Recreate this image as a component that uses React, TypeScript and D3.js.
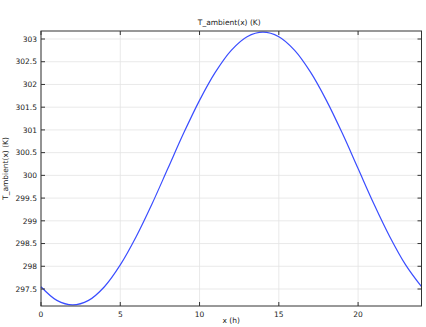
import React from "react";
import * as d3 from "d3";

const hours = [0, 1, 2, 3, 4, 5, 6, 7, 8, 9, 10, 11, 12, 13, 14, 15, 16, 17, 18, 19, 20, 21, 22, 23, 24];
const temps = [297.55, 297.25, 297.15, 297.25, 297.55, 298.03, 298.65, 299.37, 300.15, 300.93, 301.65, 302.27, 302.75, 303.05, 303.15, 303.05, 302.75, 302.27, 301.65, 300.93, 300.15, 299.37, 298.65, 298.03, 297.55];
const xTicks = [0, 5, 10, 15, 20];
const yTicks = [297.5, 298, 298.5, 299, 299.5, 300, 300.5, 301, 301.5, 302, 302.5, 303];
const title = "T_ambient(x) (K)";
const xLabel = "x (h)";
const yLabel = "T_ambient(x) (K)";

export default function App() {
  const W = 426, H = 327;
  const L = 41, R = 421.5, T = 31, B = 306;
  const x = d3.scaleLinear().domain([0, 24]).range([L, R]);
  const y = d3.scaleLinear().domain([297.126, 303.176]).range([B, T]);
  const line = d3
    .line<number>()
    .x((_, i) => x(hours[i]))
    .y((d) => y(d))
    .curve(d3.curveCatmullRom.alpha(0.5));
  const font = "DejaVu Sans, sans-serif";
  const fs = 7.5;
  const tl = 4;
  return (
    <svg width={W} height={H} style={{ position: "absolute", left: 0, top: 0, background: "#fff" }} fontFamily={font}>
      <rect x={0} y={0} width={W} height={H} fill="#fff" />
      {xTicks.map((t) => (
        <line key={"gx" + t} x1={x(t)} x2={x(t)} y1={T} y2={B} stroke="#e3e3e3" strokeWidth={0.8} />
      ))}
      {yTicks.map((t) => (
        <line key={"gy" + t} x1={L} x2={R} y1={y(t)} y2={y(t)} stroke="#e3e3e3" strokeWidth={0.8} />
      ))}
      <path d={line(temps) || ""} fill="none" stroke="#3a4dff" strokeWidth={1.2} />
      <rect x={L} y={T} width={R - L} height={B - T} fill="none" stroke="#333" strokeWidth={1} />
      {xTicks.map((t) => (
        <g key={"tx" + t}>
          <line x1={x(t)} x2={x(t)} y1={B} y2={B - tl} stroke="#333" strokeWidth={1} />
          <line x1={x(t)} x2={x(t)} y1={T} y2={T + tl} stroke="#333" strokeWidth={1} />
          <text x={x(t)} y={B + 11} fontSize={fs} textAnchor="middle" fill="#222">
            {t}
          </text>
        </g>
      ))}
      {yTicks.map((t) => (
        <g key={"ty" + t}>
          <line x1={L} x2={L + tl} y1={y(t)} y2={y(t)} stroke="#333" strokeWidth={1} />
          <line x1={R} x2={R - tl} y1={y(t)} y2={y(t)} stroke="#333" strokeWidth={1} />
          <text x={L - 4} y={y(t) + 2.7} fontSize={fs} textAnchor="end" fill="#222">
            {t}
          </text>
        </g>
      ))}
      <text x={(L + R) / 2 - 2} y={25} fontSize={fs} textAnchor="middle" fill="#222">
        {title}
      </text>
      <text x={(L + R) / 2} y={323} fontSize={fs} textAnchor="middle" fill="#222">
        {xLabel}
      </text>
      <text
        transform={`translate(7.5, ${(T + B) / 2}) rotate(-90)`}
        fontSize={fs}
        textAnchor="middle"
        fill="#222"
      >
        {yLabel}
      </text>
    </svg>
  );
}
